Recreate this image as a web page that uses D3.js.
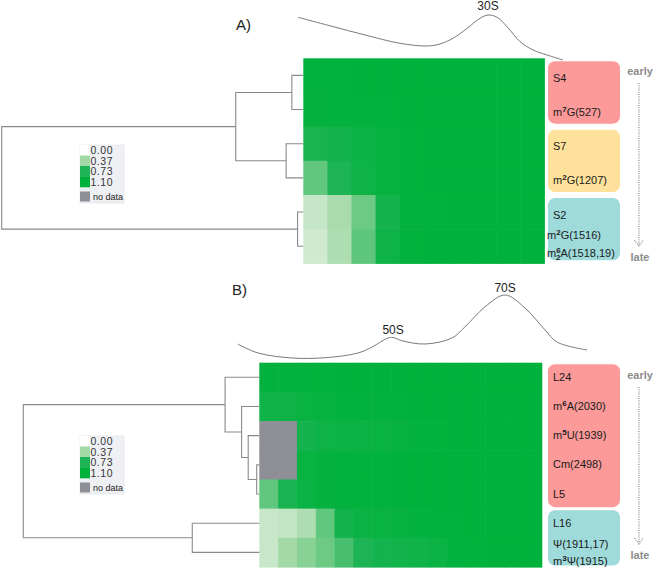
<!DOCTYPE html>
<html>
<head>
<meta charset="utf-8">
<script src="https://cdn.jsdelivr.net/npm/d3@7"></script>
<style>
body{margin:0;background:#fff;font-family:"Liberation Sans",Arial,sans-serif;}
</style>
</head>
<body>
<div id="chart"></div>
<script>
// legend / colour steps
var legendTicks = [0.00, 0.37, 0.73, 1.10];
var legendLabels = ["0.00", "0.37", "0.73", "1.10"];

// ---- panel A (30S) ----
var fractionsA = [1,2,3,4,5,6,7,8,9,10];
var rowLabelsA = [["S4"], ["m^7G(527)"], ["S7"], ["m^2G(1207)"], ["S2"], ["m^2G(1516)", "m^6_2A(1518,19)"]];
var valuesA = [
  [1.08,1.09,1.10,1.10,1.10,1.10,1.10,1.10,1.10,1.10],
  [1.04,1.05,1.07,1.09,1.10,1.10,1.10,1.10,1.10,1.10],
  [0.82,0.90,0.97,1.03,1.08,1.10,1.10,1.10,1.10,1.10],
  [0.55,0.75,0.95,1.02,1.08,1.10,1.10,1.10,1.10,1.10],
  [0.13,0.33,0.52,0.86,1.06,1.08,1.10,1.10,1.10,1.10],
  [0.07,0.30,0.56,0.93,1.08,1.10,1.10,1.10,1.10,1.10]
];
var groupsA = [[0,1],[2,3],[4,5]];
// merges: [child1, child2, height]  (leaves 0..5, new nodes 6..)
var treeA = [[0,1,0.038],[2,3,0.057],[4,5,0.019],[6,7,0.224],[9,8,1.0]];
// sedimentation profile (relative position, absorbance)
var profilePosA = [0.000,0.121,0.253,0.385,0.487,0.536,0.585,0.638,0.687,0.717,0.751,0.789,0.838,0.887,0.940,1.000];
var profileAbsA = [0.949,0.760,0.556,0.371,0.311,0.356,0.482,0.704,0.927,1.000,0.949,0.740,0.407,0.222,0.111,0.000];
var peaksA = [{name:"30S", pos:0.717, abs:1.0}];

// ---- panel B (50S) ----
var fractionsB = [1,2,3,4,5,6,7,8,9,10,11,12,13,14,15];
var rowLabelsB = [["L24"], ["m^6A(2030)"], ["m^5U(1939)"], ["Cm(2498)"], ["L5"], ["L16"], ["\u03A8(1911,17)", "m^3\u03A8(1915)"]];
var valuesB = [
  [1.06,1.07,1.08,1.09,1.10,1.10,1.10,1.10,1.10,1.10,1.10,1.10,1.10,1.10,1.10],
  [0.92,0.93,1.00,1.03,1.05,1.07,1.08,1.09,1.10,1.10,1.10,1.10,1.10,1.10,1.10],
  [null,null,0.85,0.95,0.98,0.98,1.00,1.02,1.05,1.08,1.10,1.10,1.10,1.10,1.10],
  [null,null,1.00,1.04,1.06,1.08,1.09,1.10,1.10,1.10,1.10,1.10,1.10,1.10,1.10],
  [0.55,0.80,0.98,1.04,1.06,1.08,1.09,1.10,1.10,1.10,1.10,1.10,1.10,1.10,1.10],
  [0.12,0.16,0.30,0.55,0.90,0.98,1.00,1.02,1.05,1.07,1.08,1.10,1.10,1.10,1.10],
  [0.12,0.37,0.44,0.52,0.62,0.76,0.86,0.90,0.92,0.98,1.05,1.08,1.10,1.10,1.10]
];
var groupsB = [[0,1,2,3,4],[5,6]];
var treeB = [[3,4,0.011],[2,7,0.047],[1,8,0.075],[0,9,0.145],[5,6,0.284],[10,11,1.0]];
var profilePosB = [0.002,0.060,0.157,0.251,0.346,0.386,0.431,0.446,0.471,0.537,0.614,0.651,0.709,0.766,0.823,0.880,0.914,1.000];
var profileAbsB = [0.246,0.108,0.031,0.035,0.108,0.200,0.338,0.346,0.297,0.246,0.338,0.508,0.820,1.000,0.800,0.462,0.277,0.154];
var peaksB = [{name:"50S", pos:0.446, abs:0.346}, {name:"70S", pos:0.766, abs:1.0}];

var svg = d3.select("#chart").append("svg").attr("width", 656).attr("height", 570);

var color = d3.scaleLinear().domain(legendTicks)
  .range(["#d9eed9", "#a3d9a6", "#1fb456", "#00b23b"]).clamp(true);
var noDataColor = "#8e8f96";
var lineColor = "#8a8a8a";

// text with ^sup and _sub (a _ right after a ^ is stacked under it)
function richText(t, s) {
  var i = 0, cur = 0;
  while (i < s.length) {
    var c = s[i];
    if (c === "^" || c === "_") {
      var target = c === "^" ? -4 : 3;
      var ts = t.append("tspan").attr("font-size", "8px").attr("font-weight", "bold")
        .attr("dy", target - cur).text(s[i + 1]);
      if (c === "_" && s[i - 2] === "^") ts.attr("dx", -4.6);
      cur = target; i += 2;
    } else {
      var j = i;
      while (j < s.length && s[j] !== "^" && s[j] !== "_") j++;
      t.append("tspan").attr("dy", -cur).text(s.slice(i, j));
      cur = 0; i = j;
    }
  }
}

function drawPanel(p) {
  var g = svg.append("g");
  var x = d3.scaleBand().domain(p.fractions).range([p.left, p.left + p.width]);
  var y = d3.scaleBand().domain(d3.range(p.values.length)).range([p.top, p.top + p.height]);

  // heatmap
  p.values.forEach(function(row, r) {
    g.selectAll(null).data(row).enter().append("rect")
      .attr("x", function(d, i) { return x(p.fractions[i]); })
      .attr("y", y(r))
      .attr("width", x.bandwidth() + 0.6)
      .attr("height", y.bandwidth() + 0.6)
      .attr("fill", function(d) { return d === null ? noDataColor : color(d); });
  });

  // dendrogram
  var n = p.values.length;
  var dx = d3.scaleLinear().domain([0, 1]).range([p.left, p.rootX]);
  var nodes = d3.range(n).map(function(i) { return {x: p.left, y: y(i) + y.bandwidth() / 2}; });
  p.tree.forEach(function(m) {
    var a = nodes[m[0]], b = nodes[m[1]], nx = dx(m[2]);
    g.append("path")
      .attr("d", "M" + a.x + "," + a.y + "H" + nx + "V" + b.y + "H" + b.x)
      .attr("fill", "none").attr("stroke", lineColor).attr("stroke-width", 1.1);
    nodes.push({x: nx, y: (a.y + b.y) / 2});
  });

  // sedimentation profile
  var px = d3.scaleLinear().domain([0, 1]).range(p.profileX);
  var py = d3.scaleLinear().domain([0, 1]).range(p.profileY);
  g.append("path")
    .datum(p.profilePos.map(function(d, i) { return [d, p.profileAbs[i]]; }))
    .attr("d", d3.line().x(function(d) { return px(d[0]); }).y(function(d) { return py(d[1]); })
      .curve(d3.curveCatmullRom.alpha(0.5)))
    .attr("fill", "none").attr("stroke", "#7a7a7a").attr("stroke-width", 1);
  g.selectAll(null).data(p.peaks).enter().append("text")
    .attr("x", function(d) { return px(d.pos); })
    .attr("y", function(d) { return py(d.abs) - p.peakGap; })
    .attr("text-anchor", "middle").attr("font-size", "12px").attr("fill", "#222")
    .text(function(d) { return d.name; });

  // panel letter
  g.append("text").attr("x", p.letterX).attr("y", p.letterY)
    .attr("font-size", "15px").attr("fill", "#222").text(p.letter);

  // group boxes
  p.groups.forEach(function(rows, k) {
    var y0 = y(rows[0]) + p.boxInset, y1 = y(rows[rows.length - 1]) + y.bandwidth() - p.boxInset;
    g.append("rect").attr("x", 548).attr("y", y0).attr("width", 72).attr("height", y1 - y0)
      .attr("rx", 7).attr("fill", p.groupColors[k]);
  });

  // row labels
  p.rowLabels.forEach(function(lines, r) {
    var cy = y(r) + y.bandwidth() / 2;
    var offs = lines.length === 1 ? [p.labelOff] : p.multiOff;
    lines.forEach(function(s, j) {
      var t = g.append("text").attr("x", lines.length === 1 ? 553 : p.multiX).attr("y", cy + offs[j])
        .attr("font-size", "11px").attr("fill", "#1a1a1a");
      richText(t, s);
    });
  });

  // early -> late arrow
  g.append("text").attr("x", 640).attr("y", p.earlyY).attr("text-anchor", "middle")
    .attr("font-size", "11px").attr("font-weight", "bold").attr("fill", "#8c8c8c").text("early");
  g.append("text").attr("x", 640).attr("y", p.lateY).attr("text-anchor", "middle")
    .attr("font-size", "11px").attr("font-weight", "bold").attr("fill", "#8c8c8c").text("late");
  g.append("path")
    .attr("d", "M639," + (p.earlyY + 8) + "V" + (p.lateY - 15) +
      "M634.5," + (p.lateY - 21) + "L639," + (p.lateY - 15) + "L643.5," + (p.lateY - 21))
    .attr("fill", "none").attr("stroke", "#8c8c8c").attr("stroke-width", 1.2)
    .attr("stroke-dasharray", "1,1.2");

  // legend
  var lg = g.append("g").attr("transform", "translate(80," + p.legendY + ")");
  lg.append("rect").attr("x", 0).attr("y", 0).attr("width", 44).attr("height", 58)
    .attr("fill", "#eef0f3").attr("stroke", "#e0e2e6").attr("stroke-width", 0.6);
  var ly = d3.scaleBand().domain(legendTicks).range([0, 42]);
  lg.selectAll(null).data(legendTicks).enter().append("rect")
    .attr("x", 0).attr("y", function(d) { return ly(d); })
    .attr("width", 10).attr("height", ly.bandwidth() + 0.3)
    .attr("fill", function(d) { return d === 0 ? "#ffffff" : color(d); });
  lg.selectAll(null).data(legendLabels).enter().append("text")
    .attr("x", 10.5).attr("y", function(d, i) { return ly(legendTicks[i]) + ly.bandwidth() / 2 + 4; })
    .attr("font-size", "10.5px").attr("fill", "#333").attr("textLength", 22)
    .text(function(d) { return d; });
  lg.append("rect").attr("x", 0).attr("y", 46.5).attr("width", 10).attr("height", 10).attr("fill", noDataColor);
  lg.append("text").attr("x", 13).attr("y", 55).attr("font-size", "9px").attr("fill", "#222").text("no data");
}

drawPanel({
  fractions: fractionsA, values: valuesA, rowLabels: rowLabelsA, groups: groupsA, tree: treeA,
  profilePos: profilePosA, profileAbs: profileAbsA, peaks: peaksA,
  left: 303.3, top: 58.3, width: 241, height: 205, rootX: 1.7,
  profileX: [298, 563], profileY: [60, 15], peakGap: 5,
  letter: "A)", letterX: 236, letterY: 30,
  groupColors: ["#fb9a99", "#fee29b", "#a0dbdc"], boxInset: 3,
  labelOff: 6.5, multiOff: [-7, 11], multiX: 547,
  earlyY: 75, lateY: 261, legendY: 145
});

drawPanel({
  fractions: fractionsB, values: valuesB, rowLabels: rowLabelsB, groups: groupsB, tree: treeB,
  profilePos: profilePosB, profileAbs: profileAbsB, peaks: peaksB,
  left: 259.3, top: 362.7, width: 282.4, height: 204.3, rootX: 23.3,
  profileX: [237, 587], profileY: [360, 295], peakGap: 3.5,
  letter: "B)", letterX: 232, letterY: 295,
  groupColors: ["#fb9a99", "#a0dbdc"], boxInset: 1.5,
  labelOff: 3.5, multiOff: [-4.5, 12.5], multiX: 553,
  earlyY: 379, lateY: 559, legendY: 436
});
</script>
</body>
</html>
